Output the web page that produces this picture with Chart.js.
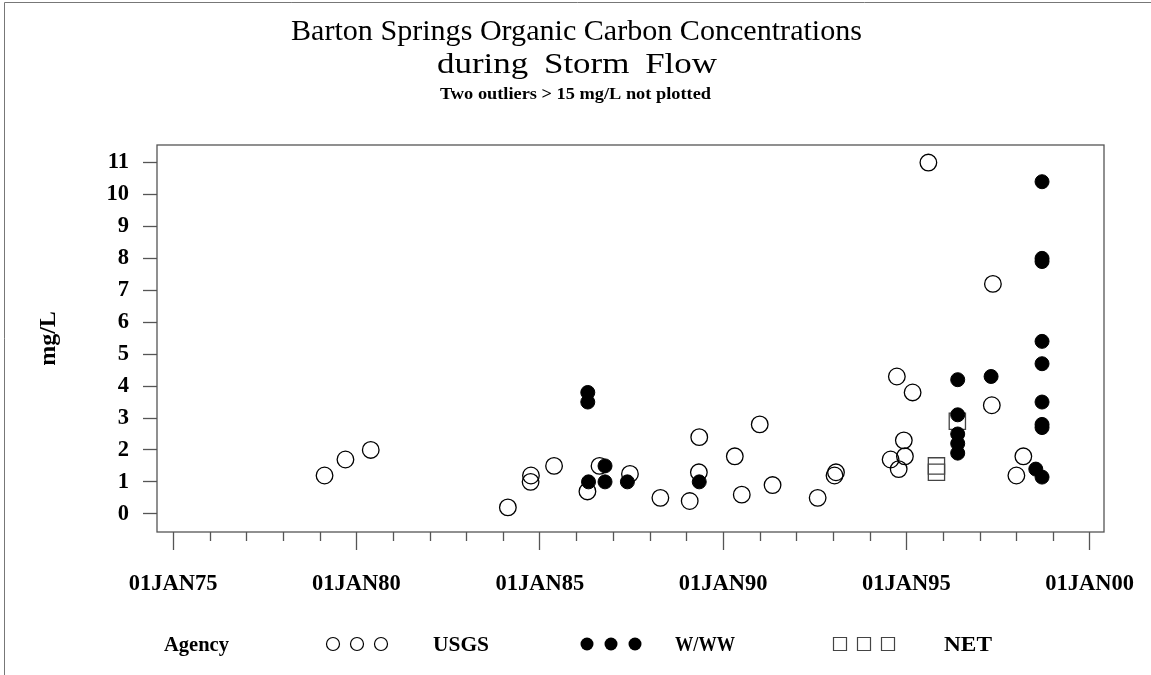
<!DOCTYPE html>
<html lang="en">
<head>
  <meta charset="UTF-8" />
  <title>Barton Springs Organic Carbon Concentrations</title>
  <script src="https://cdn.jsdelivr.net/npm/chart.js"></script>
  <style>
    body { margin: 0; background: #fff; }
    canvas { display: block; }
  </style>
</head>
<body>
  <canvas id="carbonChart" width="1151" height="675"></canvas>

  <script>
    // sample dates as decimal years, concentrations in mg/L
    const usgsDates = [1979.13, 1979.70, 1980.39, 1984.13, 1984.76, 1984.75, 1985.39, 1986.30, 1986.63, 1987.46,
                       1988.29, 1989.09, 1989.34, 1989.35, 1990.32, 1990.51, 1991.00, 1991.35, 1992.58, 1993.04,
                       1993.08, 1994.57, 1994.74, 1994.79, 1994.93, 1994.96, 1995.17, 1995.60, 1997.33, 1997.36,
                       1998.00, 1998.19];
    const usgsValues = [1.2, 1.7, 2.0, 0.2, 1.2, 1.0, 1.5, 0.7, 1.5, 1.25,
                        0.5, 0.4, 1.3, 2.4, 1.8, 0.6, 2.8, 0.9, 0.5, 1.2,
                        1.3, 1.7, 4.3, 1.4, 2.3, 1.8, 3.8, 11.0, 3.4, 7.2,
                        1.2, 1.8];

    const wwwDates = [1986.31, 1986.31, 1986.33, 1986.78, 1986.78, 1987.39, 1989.35, 1996.40, 1996.40, 1996.40,
                      1996.40, 1996.40, 1997.31, 1998.53, 1998.70, 1998.70, 1998.70, 1998.70, 1998.70, 1998.70,
                      1998.70, 1998.70, 1998.70];
    const wwwValues = [3.8, 3.5, 1.0, 1.5, 1.0, 1.0, 1.0, 4.2, 3.1, 2.5,
                       2.2, 1.9, 4.3, 1.4, 1.15, 10.4, 8.0, 7.9, 5.4, 4.7,
                       3.5, 2.8, 2.7];

    const netDates = [1995.82, 1995.82, 1996.39];
    const netValues = [1.5, 1.3, 2.9];

    const xTickYears = [1975, 1980, 1985, 1990, 1995, 2000];
    const xTickLabels = ['01JAN75', '01JAN80', '01JAN85', '01JAN90', '01JAN95', '01JAN00'];
    const xMinorYears = [1976, 1977, 1978, 1979, 1981, 1982, 1983, 1984, 1986, 1987, 1988, 1989,
                         1991, 1992, 1993, 1994, 1996, 1997, 1998, 1999];
    const yTicks = [0, 1, 2, 3, 4, 5, 6, 7, 8, 9, 10, 11];

    const titleLines = ['Barton Springs Organic Carbon Concentrations', 'during Storm Flow'];
    const subtitle = 'Two outliers > 15 mg/L not plotted';
    const legendTitle = 'Agency';
    const agencies = ['USGS', 'W/WW', 'NET'];

    const serif = '"Liberation Serif", "Times New Roman", serif';
    const toPoints = (xs, ys) => xs.map((x, i) => ({ x: x, y: ys[i] }));

    // draw text centred on cx, squeezed/stretched to a given width
    function fitText(ctx, text, cx, y, width) {
      const w = ctx.measureText(text).width;
      ctx.save();
      ctx.translate(cx, y);
      ctx.scale(width / w, 1);
      ctx.textAlign = 'center';
      ctx.fillText(text, 0, 0);
      ctx.restore();
    }

    function legendSymbol(ctx, kind, x, y) {
      ctx.beginPath();
      if (kind === 'rect') {
        ctx.rect(x - 6.5, y - 6.5, 13, 13);
        ctx.stroke();
      } else {
        ctx.arc(x, y, 6.5, 0, Math.PI * 2);
        if (kind === 'filled') ctx.fill(); else ctx.stroke();
      }
    }

    const sasFrame = {
      id: 'sasFrame',
      beforeDraw(chart) {
        const ctx = chart.ctx;
        ctx.save();
        ctx.strokeStyle = '#777';
        ctx.lineWidth = 1;
        ctx.beginPath();
        ctx.moveTo(4.5, 675);
        ctx.lineTo(4.5, 2.5);
        ctx.lineTo(1151, 2.5);
        ctx.stroke();

        ctx.fillStyle = '#000';
        ctx.textBaseline = 'alphabetic';
        ctx.font = '30px ' + serif;
        fitText(ctx, titleLines[0], 576.5, 40, 571);
        ctx.wordSpacing = '6px';
        fitText(ctx, titleLines[1], 577, 73, 280);
        ctx.wordSpacing = '0px';
        ctx.font = 'bold 17px ' + serif;
        fitText(ctx, subtitle, 575.5, 99, 271);
        ctx.restore();
      },
      afterDraw(chart) {
        const { ctx, chartArea: a, scales: { x } } = chart;
        ctx.save();
        ctx.strokeStyle = '#555';
        ctx.lineWidth = 1.3;
        ctx.strokeRect(a.left, a.top, a.right - a.left, a.bottom - a.top);

        // yearly minor ticks
        ctx.beginPath();
        xMinorYears.forEach(yr => {
          const px = Math.round(x.getPixelForValue(yr)) + 0.5;
          ctx.moveTo(px, a.bottom);
          ctx.lineTo(px, a.bottom + 9);
        });
        ctx.stroke();

        // legend row
        ctx.fillStyle = '#000';
        ctx.textBaseline = 'alphabetic';
        ctx.font = 'bold 21px ' + serif;
        fitText(ctx, legendTitle, 196.5, 651, 65);
        const kinds = ['open', 'filled', 'rect'];
        const symbolX = [333, 587, 840];
        const labelX = [461, 705, 968];
        const labelW = [56, 60, 48];
        agencies.forEach((name, i) => {
          ctx.strokeStyle = i === 2 ? '#444' : '#000';
          ctx.lineWidth = 1.2;
          for (let k = 0; k < 3; k++) legendSymbol(ctx, kinds[i], symbolX[i] + k * 24, 644);
          fitText(ctx, name, labelX[i], 651, labelW[i]);
        });
        ctx.restore();
      }
    };

    const tickFont = { family: serif, size: 22.5, weight: 'bold' };

    const ctx = document.getElementById('carbonChart').getContext('2d');
    const chart = new Chart(ctx, {
      type: 'scatter',
      data: {
        datasets: [{
          label: 'USGS',
          data: toPoints(usgsDates, usgsValues),
          pointStyle: 'circle',
          pointRadius: 8.3,
          pointBorderWidth: 1.3,
          pointBorderColor: '#000',
          pointBackgroundColor: 'rgba(0,0,0,0)',
          order: 2
        }, {
          label: 'W/WW',
          data: toPoints(wwwDates, wwwValues),
          pointStyle: 'circle',
          pointRadius: 7,
          pointBorderWidth: 1,
          pointBorderColor: '#000',
          pointBackgroundColor: '#000',
          order: 1
        }, {
          label: 'NET',
          data: toPoints(netDates, netValues),
          pointStyle: 'rect',
          pointRadius: 11.5,
          pointBorderWidth: 1.3,
          pointBorderColor: '#444',
          pointBackgroundColor: 'rgba(0,0,0,0)',
          order: 3
        }]
      },
      options: {
        responsive: false,
        animation: false,
        events: [],
        layout: { padding: { top: 145, right: 47, left: 0, bottom: 0 } },
        plugins: {
          legend: { display: false },
          tooltip: { enabled: false }
        },
        scales: {
          x: {
            type: 'linear',
            min: 1974.56,
            max: 2000.39,
            afterBuildTicks: s => { s.ticks = xTickYears.map(v => ({ value: v })); },
            afterFit: s => { s.height = 143; s.paddingLeft = 0; s.paddingRight = 0; },
            grid: { drawOnChartArea: false, tickLength: 18, tickColor: '#555', tickWidth: 1.3 },
            border: { display: false },
            ticks: {
              callback: (v, i) => xTickLabels[i],
              color: '#000',
              font: tickFont,
              padding: 21,
              maxRotation: 0,
              autoSkip: false
            }
          },
          y: {
            min: -0.57,
            max: 11.55,
            afterBuildTicks: s => { s.ticks = yTicks.map(v => ({ value: v })); },
            afterFit: s => { s.width = 157; s.paddingTop = 0; s.paddingBottom = 0; },
            grid: { drawOnChartArea: false, tickLength: 14, tickColor: '#555', tickWidth: 1.3 },
            border: { display: false },
            ticks: { color: '#000', font: tickFont, padding: 14 },
            title: {
              display: true,
              text: 'mg/L',
              color: '#000',
              font: { family: serif, size: 24, weight: 'bold' },
              padding: { top: 34, bottom: 0 }
            }
          }
        }
      },
      plugins: [sasFrame]
    });
  </script>
</body>
</html>
